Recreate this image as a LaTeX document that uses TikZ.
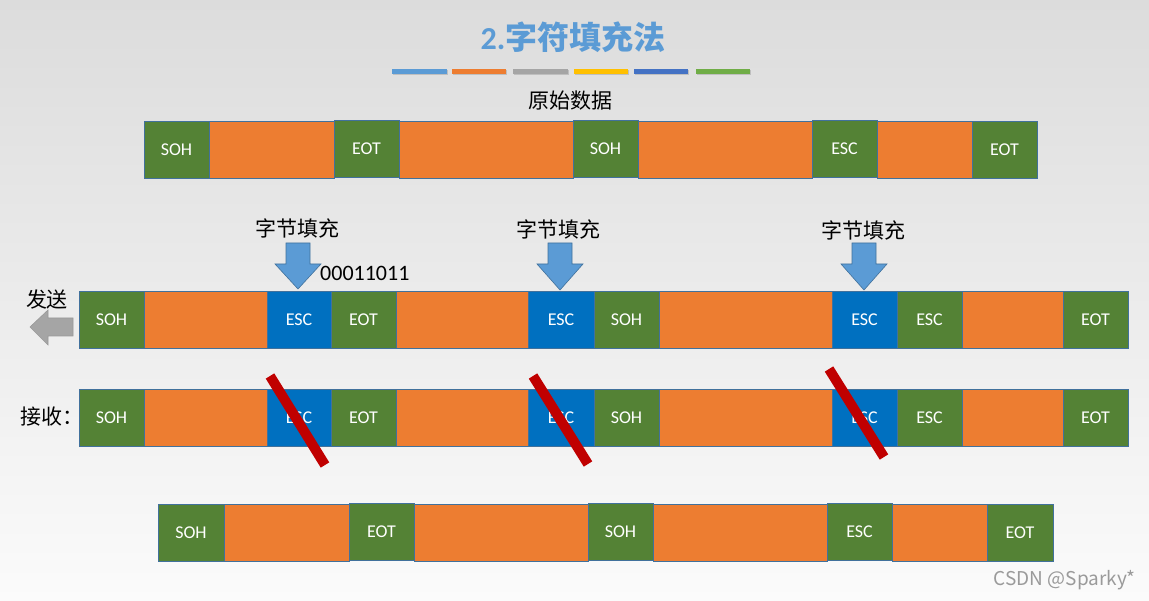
\documentclass[tikz,border=0pt]{standalone}
\usepackage{fontspec}
\setmainfont{Carlito}
\newfontfamily\cjk{Noto Sans CJK SC}
\definecolor{bgtop}{HTML}{DCDCDC}
\definecolor{bgbot}{HTML}{FBFBFB}
\definecolor{cgreen}{HTML}{548235}
\definecolor{corange}{HTML}{ED7D31}
\definecolor{cblue}{HTML}{0070C0}
\definecolor{cedge}{HTML}{41719C}
\definecolor{ltblue}{HTML}{5B9BD5}
\definecolor{bar1}{HTML}{5B9BD5}
\definecolor{bar2}{HTML}{ED7D31}
\definecolor{bar3}{HTML}{A5A5A5}
\definecolor{bar4}{HTML}{FFC000}
\definecolor{bar5}{HTML}{4472C4}
\definecolor{bar6}{HTML}{70AD47}
\definecolor{slash}{HTML}{C00000}
\definecolor{wm}{HTML}{9A9A9A}
\tikzset{
  cellbase/.style={draw=cedge, line width=0.8pt, minimum height=57pt, inner sep=0pt, text=white, font=\fontsize{18}{18}\selectfont},
  gcell/.style={cellbase, fill=cgreen},
  ocell/.style={cellbase, fill=corange},
  bcell/.style={cellbase, fill=cblue},
  lab/.style={font=\cjk\fontsize{21}{21}\selectfont, text=black, inner sep=0pt},
  bararrow/.style={fill=ltblue, draw=cedge, line width=0.6pt},
  slashline/.style={draw=slash, line width=10pt},
}
\newcommand\cel[6]{\node[#1, minimum width={#4-#3}] (#2) at ({(#3+#4)/2},#5) {#6};}
\newcommand\blockdown[2]{%
  \filldraw[bararrow] (#1-12,243) -- (#1+12,243) -- (#1+12,264) -- (#1+23,264) -- (#1,#2) -- (#1-23,264) -- (#1-12,264) -- cycle;}
\begin{document}
\begin{tikzpicture}[x=1pt,y=-1pt]
\useasboundingbox (0,0) rectangle (1149,601);
\shade[top color=bgtop, bottom color=bgbot] (0,0) rectangle (1149,601);

% title
\node[font=\fontsize{32}{32}\selectfont\bfseries, text=ltblue, inner sep=0pt] (title) at (573,37) {2.{\cjk 字符填充法}};
% colour bars
\foreach \a/\b/\c in {392/447/bar1, 452/506/bar2, 513/568/bar3, 574/628/bar4, 634/688/bar5, 696/750/bar6}{
  \fill[black!25] (\a+1,70.5) rectangle (\b+1,75.5);
  \fill[\c] (\a,69) rectangle (\b,74);
}
\node[lab] (orig) at (570,101) {原始数据};

% row 1
\cel{ocell}{a2}{209}{334}{150}{}
\cel{ocell}{a4}{399}{573}{150}{}
\cel{ocell}{a6}{638}{812}{150}{}
\cel{ocell}{a8}{877}{972}{150}{}
\cel{gcell}{a1}{144}{209}{150}{SOH}
\cel{gcell}{a3}{334}{399}{149}{EOT}
\cel{gcell}{a5}{573}{638}{149}{SOH}
\cel{gcell}{a7}{812}{877}{149}{ESC}
\cel{gcell}{a9}{972}{1037}{150}{EOT}

% rows 2 and 3
\foreach \r/\y in {b/319.5, c/417.5}{
\cel{ocell}{\r2}{144}{267}{\y}{}
\cel{ocell}{\r5}{396}{528}{\y}{}
\cel{ocell}{\r8}{659}{832}{\y}{}
\cel{ocell}{\r11}{962}{1063}{\y}{}
\cel{gcell}{\r1}{79}{144}{\y}{SOH}
\cel{bcell}{\r3}{267}{331}{\y}{ESC}
\cel{gcell}{\r4}{331}{396}{\y}{EOT}
\cel{bcell}{\r6}{528}{594}{\y}{ESC}
\cel{gcell}{\r7}{594}{659}{\y}{SOH}
\cel{bcell}{\r9}{832}{897}{\y}{ESC}
\cel{gcell}{\r10}{897}{962}{\y}{ESC}
\cel{gcell}{\r12}{1063}{1128}{\y}{EOT}
}

% labels and arrows
\node[lab] (f1) at (297,228) {字节填充};
\node[lab] (f2) at (558,229) {字节填充};
\node[lab] (f3) at (863,230) {字节填充};
\blockdown{298}{289}
\blockdown{560}{290}
\blockdown{864}{290}
\node[font=\fontsize{22}{22}\selectfont, inner sep=0pt, anchor=west] (code) at (320,273) {00011011};

\node[lab] (send) at (47,300) {发送};
\filldraw[fill=bar3, draw=black!40, line width=0.6pt] (73,318) -- (48,318) -- (48,310) -- (30,327) -- (48,345) -- (48,336) -- (73,336) -- cycle;
\node[lab, anchor=west] (recv) at (20,417) {接收：};

% red slashes
\coordinate (s1a) at (270,376); \coordinate (s1b) at (325,465);
\coordinate (s2a) at (533,376); \coordinate (s2b) at (588,464);
\coordinate (s3a) at (829,369); \coordinate (s3b) at (884,457);
\draw[slashline] (s1a) -- (s1b);
\draw[slashline] (s2a) -- (s2b);
\draw[slashline] (s3a) -- (s3b);

% row 4
\cel{ocell}{d2}{224}{349}{533}{}
\cel{ocell}{d4}{414}{588}{533}{}
\cel{ocell}{d6}{653}{827}{533}{}
\cel{ocell}{d8}{892}{987}{533}{}
\cel{gcell}{d1}{158}{224}{533}{SOH}
\cel{gcell}{d3}{349}{414}{532}{EOT}
\cel{gcell}{d5}{588}{653}{532}{SOH}
\cel{gcell}{d7}{827}{892}{532}{ESC}
\cel{gcell}{d9}{987}{1053}{533}{EOT}

\node[font=\cjk\fontsize{19}{19}\selectfont, text=wm, anchor=east, inner sep=0pt] (wmark) at (1136,580) {CSDN @Sparky*};
\end{tikzpicture}
\end{document}
